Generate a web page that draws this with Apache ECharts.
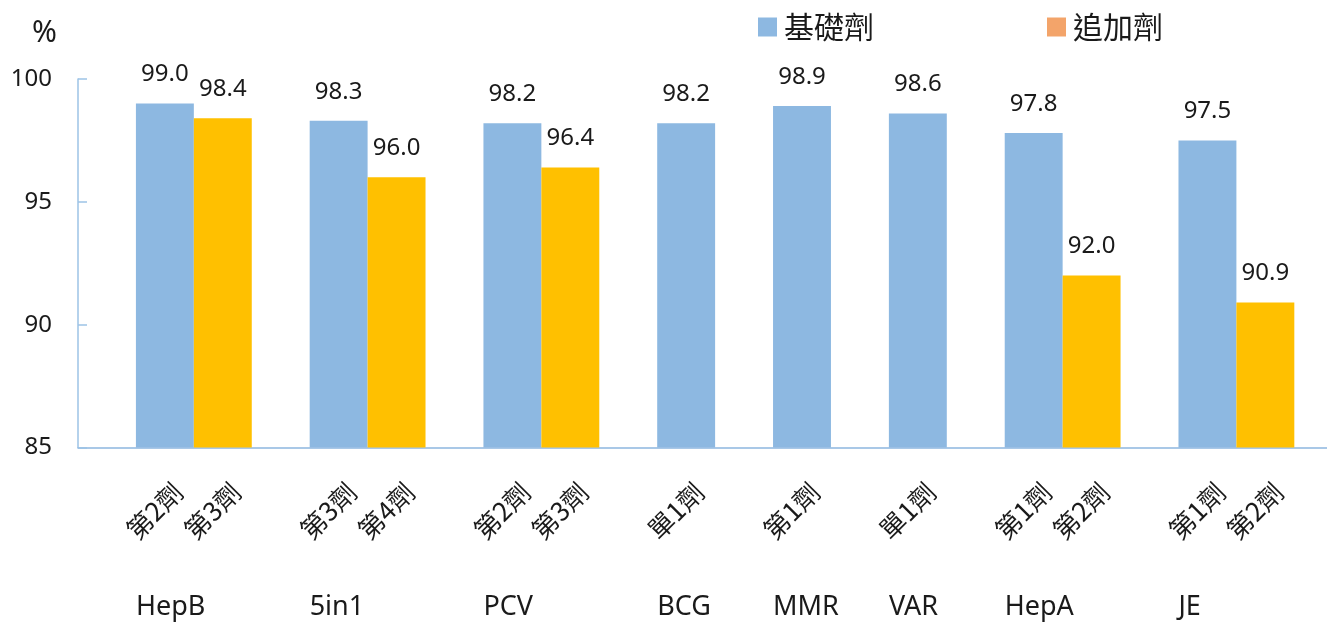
<!DOCTYPE html>
<html>
<head>
<meta charset="utf-8">
<script src="https://cdn.jsdelivr.net/npm/echarts@6/dist/echarts.min.js"></script>
<style>
  html, body { margin: 0; padding: 0; background: #ffffff; }
  #chart { width: 1327px; height: 625px; }
</style>
</head>
<body>
<div id="chart"></div>
<script>
// ---- data ----
const vaccines = ['HepB', '5in1', 'PCV', 'BCG', 'MMR', 'VAR', 'HepA', 'JE'];
const baseDose = ['第2劑', '第3劑', '第2劑', '單1劑', '第1劑', '單1劑', '第1劑', '第1劑'];
const boosterDose = ['第3劑', '第4劑', '第3劑', null, null, null, '第2劑', '第2劑'];
const baseValues = [99.0, 98.3, 98.2, 98.2, 98.9, 98.6, 97.8, 97.5];
const boosterValues = [98.4, 96.0, 96.4, null, null, null, 92.0, 90.9];
const seriesNames = ['基礎劑', '追加劑'];
const yTicks = { min: 85, max: 100, interval: 5 };

// ---- build slot layout (one slot per bar, one empty slot between groups) ----
const slotLabels = [''];
const baseSlots = [null];
const boosterSlots = [null];
const groupEdgeLabels = [''];
vaccines.forEach((v, i) => {
  slotLabels.push(baseDose[i]); baseSlots.push(baseValues[i]); boosterSlots.push(null);
  groupEdgeLabels.push(v);
  if (boosterDose[i] !== null) {
    slotLabels.push(boosterDose[i]); baseSlots.push(null); boosterSlots.push(boosterValues[i]);
    groupEdgeLabels.push('');
  }
  slotLabels.push(''); baseSlots.push(null); boosterSlots.push(null);
  groupEdgeLabels.push('');
});
groupEdgeLabels.push('');

const nSlots = slotLabels.length;
const slotW = 57.92;
const plotLeft = 78;
const plotTop = 79;
const plotH = 368.5;
const plotW = slotW * nSlots;

const latin = '"Noto Sans", "Noto Sans CJK TC", sans-serif';
const cjk = '"Noto Sans CJK TC", "Noto Sans", sans-serif';
const textColor = '#1a1a1a';

const chart = echarts.init(document.getElementById('chart'));
chart.setOption({
  animation: false,
  title: {
    text: '%', left: 27, top: 13,
    textStyle: { fontSize: 30, fontWeight: 'normal', color: textColor, fontFamily: latin }
  },
  legend: [
    {
      left: 753, top: 7, icon: 'rect', itemWidth: 19, itemHeight: 19, selectedMode: false,
      data: [{ name: seriesNames[0] }],
      textStyle: { fontSize: 30, color: textColor, fontFamily: cjk, padding: [0, 0, 0, 2] }
    },
    {
      left: 1042, top: 7, icon: 'rect', itemWidth: 19, itemHeight: 19, selectedMode: false,
      data: [{ name: seriesNames[1], itemStyle: { color: '#F3A46A' } }],
      textStyle: { fontSize: 30, color: textColor, fontFamily: cjk, padding: [0, 0, 0, 2] }
    }
  ],
  grid: [
    { left: plotLeft, top: plotTop, width: plotW, height: plotH, outerBoundsMode: 'none', containLabel: false },
    { left: plotLeft + 13, top: plotTop, width: plotW, height: plotH, outerBoundsMode: 'none', containLabel: false }
  ],
  xAxis: [
    {
      type: 'category', gridIndex: 0, data: slotLabels, position: 'bottom',
      axisLine: { onZero: false, lineStyle: { color: '#8DB6E0', width: 1.5 } },
      axisTick: { show: false }, axisLabel: { show: false }, splitLine: { show: false }
    },
    {
      type: 'category', gridIndex: 1, data: slotLabels, position: 'bottom',
      axisLine: { show: false }, axisTick: { show: false }, splitLine: { show: false },
      axisLabel: { interval: 0, rotate: 45, margin: 40, fontSize: 26, color: textColor, fontFamily: cjk }
    },
    {
      type: 'category', gridIndex: 0, data: groupEdgeLabels, position: 'bottom', boundaryGap: false,
      axisLine: { show: false }, axisTick: { show: false }, splitLine: { show: false },
      axisLabel: { interval: 0, align: 'left', margin: 146, fontSize: 27, color: textColor, fontFamily: latin }
    }
  ],
  yAxis: [
    {
      type: 'value', gridIndex: 0, min: yTicks.min, max: yTicks.max, interval: yTicks.interval,
      axisLine: { show: true, lineStyle: { color: '#9DC3E6', width: 1.5 } },
      axisTick: { show: true, inside: true, length: 9, lineStyle: { color: '#9DC3E6', width: 1.5 } },
      splitLine: { show: false },
      axisLabel: { fontSize: 24, color: textColor, margin: 26, fontFamily: latin }
    },
    {
      type: 'value', gridIndex: 1, min: yTicks.min, max: yTicks.max, show: false
    }
  ],
  series: [
    {
      name: seriesNames[0], type: 'bar', xAxisIndex: 0, yAxisIndex: 0,
      data: baseSlots, barGap: '-100%', barCategoryGap: '0%',
      itemStyle: { color: '#8DB8E1' },
      label: {
        show: true, position: 'top', distance: 17, fontSize: 24, color: textColor, fontFamily: latin,
        formatter: p => p.value == null ? '' : Number(p.value).toFixed(1)
      }
    },
    {
      name: seriesNames[1], type: 'bar', xAxisIndex: 0, yAxisIndex: 0,
      data: boosterSlots, barGap: '-100%', barCategoryGap: '0%',
      itemStyle: { color: '#FFC000' },
      label: {
        show: true, position: 'top', distance: 17, fontSize: 24, color: textColor, fontFamily: latin,
        formatter: p => p.value == null ? '' : Number(p.value).toFixed(1)
      }
    }
  ]
});
</script>
</body>
</html>
